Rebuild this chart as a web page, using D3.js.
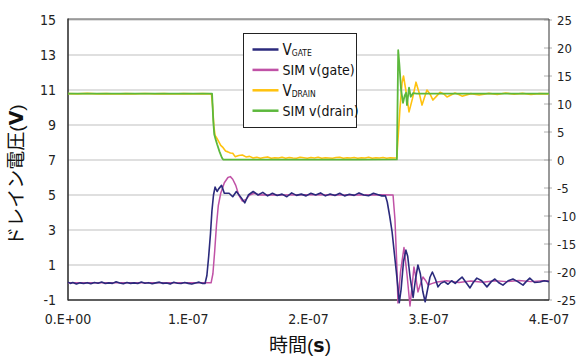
<!DOCTYPE html>
<html>
<head>
<meta charset="utf-8">
<script src="https://cdn.jsdelivr.net/npm/d3@7"></script>
<style>
  body { margin: 0; background: #fff; }
  text { font-family: "Liberation Sans Narrow", "DejaVu Sans Condensed", "Liberation Sans", sans-serif; }
</style>
</head>
<body>
<div id="chart"></div>
<script>
// time in ns, values in V
var gateT = [0,2,4,7,10,13,16,19,22,25,28,31,34,37,40,43,46,49,52,55,58,61,64,67,70,73,76,79,82,85,88,91,94,97,100,103,106,109,112,
  114,115.5,117,118.5,119.7,121,122.3,124,125.3,127.7,130,134,137,140,144,147,150,154,158,162,166,170,174,178,182,186,190,194,198,
  202,206,210,214,218,222,226,230,234,238,242,246,250,254,258,261,264,265.5,267.5,269.5,271.5,273.5,275.5,277,279,281,282.5,284.5,
  287,289,291,293,295,297,299,301,303,305.5,307.7,310,313,316,319,322,325,327.7,331,334.3,337,340,344,348.4,352,355,358,361.7,366,
  370,374,378.4,381,384,388,392.5,396,400];
var gateV = [0.02,-0.05,0,-0.08,-0.02,-0.06,-0.01,-0.07,0,-0.04,0.03,-0.06,-0.02,-0.05,0.04,-0.03,-0.07,0,-0.05,-0.02,-0.06,0.03,-0.04,-0.01,-0.07,-0.02,0.02,-0.05,-0.03,-0.08,0.01,-0.04,-0.06,0,-0.05,-0.09,-0.03,0.02,-0.06,
  -0.05,0.4,1.5,2.8,4.1,5.0,5.45,5.2,5.35,5.55,5.1,5.1,4.9,5.2,4.85,4.55,5.0,5.2,5.0,5.15,4.95,5.1,4.97,5.05,4.9,5.12,4.98,5.05,4.95,
  5.1,5.0,5.12,4.95,5.06,4.97,5.1,4.95,5.04,4.98,5.12,5.0,4.96,5.1,5.02,4.95,4.95,4.6,3.8,2.9,1.6,0.3,-1.15,-0.4,1.2,1.85,1.5,0.3,
  -0.85,0.2,1.0,0.5,-0.5,-1.1,-0.4,0.3,0.6,0.2,-0.25,-0.05,0.05,-0.1,0.1,-0.05,0.15,0.31,0,-0.31,0,0.25,0.1,-0.25,0.05,0.2,0,-0.15,0.1,
  0.2,0.05,-0.15,0.05,0.25,0,0.03,0.1,0.05];

var simGateT = [0,119,120.5,122,123.5,125,127,130,133,135,137,139.5,142,145,148,151,155,159,165,175,200,230,260,270.3,271.9,273.6,274.4,
  276.5,279.4,282,284.4,286,287.7,289.5,291,293,295.2,297.5,299.4,303,306.9,315,325,335,345,355,365,375,385,395,400];
var simGateV = [-0.02,-0.02,0.5,1.8,3.3,4.4,5.1,5.7,6.0,6.05,5.9,5.55,5.0,4.65,4.75,5.0,5.1,5.0,5.02,5.0,5.02,5.0,5.02,5.0,3.6,0.71,-1.17,
  0.6,2.0,0.4,-1.34,-0.3,0.89,0.2,-0.54,-0.1,0.31,0.1,-0.14,-0.05,0.03,0.1,0,0.08,0.02,0.1,0.05,0.12,0.05,0.1,0.08];

var drainT = [0,8,16,24,32,40,48,56,64,72,80,88,96,104,112,118,119.3,120.3,121.3,122.3,123.5,125,127,129,131,133,135,137,139,142,145,148,151,
  154,157,160,163,166,169,172,175,178,181,184,187,190,193,196,199,202,205,208,211,214,217,220,223,226,229,232,235,238,241,244,247,250,
  253,256,259,262,265,268,271,273.4,274.4,276,277.8,279,281.3,283.6,286.5,289.4,292,294.4,296.5,298.5,301,303.5,306.5,309.4,312.5,315.2,
  318.5,321.8,325,327.7,335,342,350,357,364,371,378,385,392,400];
var drainV = [11.85,11.8,11.9,11.8,11.85,11.78,11.85,11.8,11.88,11.8,11.85,11.78,11.85,11.8,11.85,11.8,11.7,9.5,6.0,4.4,4.0,3.4,2.6,2.2,1.6,1.45,
  1.25,1.2,0.6,0.8,0.9,0.55,0.65,0.35,0.5,0.3,0.45,0.55,0.3,0.4,0.35,0.5,0.3,0.45,0.35,0.3,0.5,0.4,0.3,0.45,0.35,0.5,0.3,0.4,0.35,0.3,
  0.45,0.5,0.3,0.4,0.35,0.45,0.3,0.4,0.35,0.5,0.3,0.4,0.35,0.45,0.3,0.4,0.35,0.4,3.6,9.0,13.8,15.0,12.0,8.6,11.0,13.9,12.0,9.8,11.2,
  12.5,11.8,10.7,11.4,12.1,11.8,11.25,11.6,11.95,11.7,11.4,11.85,11.6,11.9,11.7,11.95,11.75,11.9,11.7,11.85,11.8];

var simDrainT = [0,119.8,120.8,121.6,122.5,124,126,128,129,180,240,273.5,274.6,275.6,277,278.6,280,281.1,281.9,283.6,285,286,287,290,400];
var simDrainV = [11.85,11.85,7.0,4.6,3.9,2.8,1.5,0.4,0.08,0.08,0.08,0.1,19.6,17.0,12.5,10.2,11.5,12.0,9.8,12.9,11.3,11.6,11.95,11.85,11.85];

var seriesNames = ["V_GATE", "SIM v(gate)", "V_DRAIN", "SIM v(drain)"];
var seriesColors = ["#2b2a7c", "#c052a6", "#ffc20e", "#5cb83c"];

var xTicks = [0, 100, 200, 300, 400];
var xTickLabels = ["0.E+00", "1.E-07", "2.E-07", "3.E-07", "4.E-07"];
var leftTicks = [-1, 1, 3, 5, 7, 9, 11, 13, 15];
var rightTicks = [-25, -20, -15, -10, -5, 0, 5, 10, 15, 20, 25];

// chart size
var width = 579, height = 356;
var plot = {left: 68, right: 549, top: 20, bottom: 300};

var svg = d3.select("#chart")
  .append("svg")
    .attr("width", width)
    .attr("height", height);

var x = d3.scaleLinear().domain([0, 400]).range([plot.left, plot.right]);
var yL = d3.scaleLinear().domain([-1, 15]).range([plot.bottom, plot.top]);
var yR = d3.scaleLinear().domain([-25, 25]).range([plot.bottom, plot.top]);

// gridlines
svg.append("g")
  .selectAll("line")
  .data(leftTicks)
  .enter()
  .append("line")
    .attr("x1", plot.left)
    .attr("x2", plot.right)
    .attr("y1", function(d) { return yL(d); })
    .attr("y2", function(d) { return yL(d); })
    .attr("stroke", "#d4d4d4")
    .attr("stroke-width", 1.3);

// right axis ticks
svg.append("g")
  .selectAll("line")
  .data(rightTicks)
  .enter()
  .append("line")
    .attr("x1", plot.right - 5)
    .attr("x2", plot.right + 3)
    .attr("y1", function(d) { return yR(d); })
    .attr("y2", function(d) { return yR(d); })
    .attr("stroke", "#b0b0b0")
    .attr("stroke-width", 1);

// frame
svg.append("line")
  .attr("x1", plot.left).attr("x2", plot.right)
  .attr("y1", plot.top - 1).attr("y2", plot.top - 1)
  .attr("stroke", "#555").attr("stroke-width", 1.2);
svg.append("line")
  .attr("x1", plot.right).attr("x2", plot.right)
  .attr("y1", plot.top - 1).attr("y2", plot.bottom)
  .attr("stroke", "#555").attr("stroke-width", 1.2);
svg.append("line")
  .attr("x1", plot.left).attr("x2", plot.left)
  .attr("y1", plot.top - 1.5).attr("y2", plot.bottom + 0.5)
  .attr("stroke", "#333").attr("stroke-width", 1.6);
svg.append("line")
  .attr("x1", plot.left).attr("x2", plot.right)
  .attr("y1", plot.bottom).attr("y2", plot.bottom)
  .attr("stroke", "#333").attr("stroke-width", 1.6);

// tick labels
svg.append("g")
  .selectAll("text")
  .data(leftTicks)
  .enter()
  .append("text")
    .attr("x", 56)
    .attr("y", function(d) { return yL(d); })
    .attr("dy", "0.36em")
    .attr("text-anchor", "end")
    .attr("font-size", "14px")
    .attr("fill", "#222")
    .text(function(d) { return d; });

svg.append("g")
  .selectAll("text")
  .data(rightTicks)
  .enter()
  .append("text")
    .attr("x", 557)
    .attr("y", function(d) { return yR(d); })
    .attr("dy", "0.36em")
    .attr("font-size", "13px")
    .attr("fill", "#222")
    .text(function(d) { return d; });

svg.append("g")
  .selectAll("text")
  .data(xTicks)
  .enter()
  .append("text")
    .attr("x", function(d) { return x(d); })
    .attr("y", 324)
    .attr("text-anchor", "middle")
    .attr("font-size", "14px")
    .attr("fill", "#222")
    .text(function(d, i) { return xTickLabels[i]; });

// axis titles
var yTitle = svg.append("text")
  .attr("transform", "translate(23,175) rotate(-90)")
  .attr("text-anchor", "middle")
  .attr("font-size", "19px")
  .attr("fill", "#111")
  .style("font-family", "'Noto Sans CJK JP', sans-serif");
yTitle.append("tspan").text("ドレイン電圧");
yTitle.append("tspan").style("font-family", "'Liberation Sans', sans-serif").text("(");
yTitle.append("tspan").attr("font-weight", "bold").style("font-family", "'DejaVu Sans', sans-serif").text("V");
yTitle.append("tspan").style("font-family", "'Liberation Sans', sans-serif").text(")");

var xTitle = svg.append("text")
  .attr("x", 300)
  .attr("y", 352)
  .attr("text-anchor", "middle")
  .attr("font-size", "19px")
  .attr("fill", "#111")
  .style("font-family", "'Noto Sans CJK JP', sans-serif");
xTitle.append("tspan").text("時間");
xTitle.append("tspan").style("font-family", "'Liberation Sans', sans-serif").text("(");
xTitle.append("tspan").attr("font-weight", "bold").style("font-family", "'DejaVu Sans', sans-serif").text("s");
xTitle.append("tspan").style("font-family", "'Liberation Sans', sans-serif").text(")");

// traces
function pts(ts, vs) { return ts.map(function(t, i) { return [t, vs[i]]; }); }
var lineL = d3.line().x(function(d) { return x(d[0]); }).y(function(d) { return yL(d[1]); });
var lineR = d3.line().x(function(d) { return x(d[0]); }).y(function(d) { return yR(d[1]); });

var traces = [
  {data: pts(simGateT, simGateV), line: lineL, color: seriesColors[1], w: 1.5},
  {data: pts(gateT, gateV), line: lineL, color: seriesColors[0], w: 1.6},
  {data: pts(drainT, drainV), line: lineR, color: seriesColors[2], w: 1.6},
  {data: pts(simDrainT, simDrainV), line: lineR, color: seriesColors[3], w: 1.8}
];

svg.append("g")
  .selectAll("path")
  .data(traces)
  .enter()
  .append("path")
    .attr("fill", "none")
    .attr("stroke", function(d) { return d.color; })
    .attr("stroke-width", function(d) { return d.w; })
    .attr("stroke-linejoin", "round")
    .attr("d", function(d) { return d.line(d.data); });

// legend
var legend = svg.append("g").attr("transform", "translate(243.5,33.5)");
legend.append("rect")
  .attr("width", 113)
  .attr("height", 94)
  .attr("fill", "#fff")
  .attr("stroke", "#222")
  .attr("stroke-width", 1);

var rows = legend.selectAll("g.row")
  .data(seriesNames)
  .enter()
  .append("g")
    .attr("class", "row")
    .attr("transform", function(d, i) { return "translate(0," + (16 + i * 20.4) + ")"; });

rows.append("line")
  .attr("x1", 9).attr("x2", 35)
  .attr("stroke", function(d, i) { return seriesColors[i]; })
  .attr("stroke-width", 2.5);

rows.append("text")
  .attr("x", 39)
  .attr("y", 5.5)
  .attr("font-size", "14px")
  .attr("fill", "#111")
  .each(function(d) {
    var t = d3.select(this);
    if (d.indexOf("_") > 0) {
      var parts = d.split("_");
      t.append("tspan").attr("font-size", "15px").text(parts[0]);
      t.append("tspan").attr("font-size", "8.5px").attr("dy", 1).text(parts[1]);
    } else {
      t.text(d);
    }
  });
</script>
</body>
</html>
